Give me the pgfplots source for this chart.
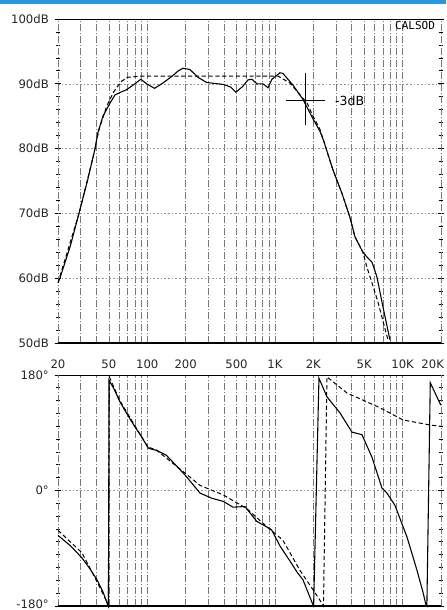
\documentclass[border=0pt]{standalone}
\usepackage{pgfplots}
\pgfplotsset{compat=1.18}
\usepackage{fontspec}
\setmainfont{DejaVu Sans}
\newfontfamily\monofont{DejaVu Sans Mono}
\definecolor{scanblue}{RGB}{40,150,225}
\definecolor{gridgray}{RGB}{120,120,120}

\pgfplotstableread{
f db
20 59.3
20.7 60
25 65
29.2 70
34 75
39 80
41.1 82.5
45 85
51 87
56 88.3
62 88.7
69 89.1
80 90
89 90.7
99 90
114 89.3
130 90
155 91.1
175 92
191 92.4
216 92.2
250 91
292 90.2
395 89.9
450 89.5
495 88.7
560 89.6
615 90.6
661 90.7
723 90
806 90
882 89.4
948 90.7
1095 91.7
1156 91.6
1385 89.8
1658 87.6
1882 85.5
2000 84.5
2250 82.7
2400 81.3
2850 76.7
3350 73.1
3870 69.4
4235 66.4
4891 64
5300 63.2
5755 62.5
6296 60.2
7015 55.6
7960 50.5
}\magmeas

\pgfplotstableread{
f db
20 59.3
29.2 70
38 79
42 83
48 86.5
54 88.6
62 90.3
70 91
90 91.2
1055 91.2
1315 90.1
1790 87
1990 85
2250 83
2400 81.3
2850 76.7
3350 73.1
3870 69.4
4235 66.4
4891 64
5256 61.7
5755 59.3
6440 56.2
7680 50.5
}\magtarget

\pgfplotstableread{
f ph
20 -70
25 -86
30.8 -105
35 -120
40.4 -139
45 -158
48.4 -175
49.7 -180
50.2 172
55 158
61.2 138
70 118
80.2 99
90 84
102 66
120 62
141 55
170 38
198 24
259 -4
320 -12
395 -17
469 -26
583 -25
720 -48
940 -61
1100 -87
1312 -110
1500 -128
1658 -139
1986 -178
2010 -180
2213 175
2557 146
3231 121
4012 91
4804 87
5755 52
6889 4
7540 -4
8710 -23
10810 -72
12950 -124
14430 -158
15240 -178
15500 -180
16480 168
19600 136
20000 133
}\phmeas

\pgfplotstableread{
f ph
20 -62
30.8 -97
40.4 -142
48.4 -174
49.5 -180
50.5 177
61 140
80 101
101 68
118 63
198 27
259 8
395 -7
600 -28
860 -56
1150 -77
1567 -124
2253 -171
2400 -180
2557 177
3666 152
6645 129
10060 110
16480 102
20000 100
}\phtarget

\begin{document}
\begin{tikzpicture}
\useasboundingbox (0,0) rectangle (267.6pt,-366pt);
\fill[scanblue] (0,0) rectangle (267.6pt,-2.2pt);

\begin{axis}[
  xmode=log,
  scale only axis, width=229.8pt, height=194.4pt,
  at={(34.8pt,-205.8pt)}, anchor=south west,
  xmin=20, xmax=20000,
  xtick={20,30,40,50,60,70,80,90,100,200,300,400,500,600,700,800,900,1000,2000,3000,4000,5000,6000,7000,8000,9000,10000,20000},
  xticklabels={20,,,50,,,,,100,200,,,500,,,,,1K,2K,,,5K,,,,,10K,\hbox to 3.5pt{\hss 20K}},
  xticklabel style={yshift=-4.5pt},
  xmajorgrids, ymajorgrids,
  major x grid style={gridgray, line width=0.35pt, dash pattern=on 4pt off 1.2pt on 0.8pt off 1.2pt},
  major y grid style={gridgray!80, line width=0.35pt, dash pattern=on 1pt off 1.2pt},
  xtick style={draw=none},
  ytick style={black, line width=0.45pt},
  tick align=center,
  major tick length=4pt, minor tick length=2.6pt,
  ticklabel style={font=\fontsize{7}{8}\selectfont, text=black!85},
  separate axis lines,
  x axis line style={black, line width=0.5pt},
  y axis line style={gridgray, line width=0.4pt, dash pattern=on 4pt off 1.2pt on 0.8pt off 1.2pt},
  clip=false,
  ymin=50, ymax=100,
  ytick={50,60,70,80,90,100},
  yticklabels={50dB,60dB,70dB,80dB,90dB,100dB},
  minor y tick num=4,
]
\addplot[black, line width=0.6pt, dash pattern=on 2.5pt off 1.6pt, no marks] table[x=f,y=db] {\magtarget};
\addplot[black, line width=0.65pt, no marks] table[x=f,y=db] {\magmeas};
\draw[black, line width=1.3pt] (rel axis cs:0,0) -- (rel axis cs:1,0);
\draw[black, line width=0.6pt] (axis cs:1221,87.35) -- (axis cs:2470,87.35);
\draw[black, line width=0.6pt] (axis cs:1737,83.6) -- (axis cs:1737,91.7);
\node[anchor=west, font=\fontsize{7.5}{8}\selectfont, inner sep=0pt] at (axis cs:2950,87.35) {-3dB};
\node[anchor=north east, font=\monofont\fontsize{6.6}{7}\selectfont, inner sep=0pt] at (rel axis cs:0.985,0.993) {CALSOD};
\end{axis}

\begin{axis}[
  xmode=log,
  scale only axis, width=229.8pt, height=138.6pt,
  at={(34.8pt,-363.6pt)}, anchor=south west,
  xmin=20, xmax=20000,
  xtick={20,30,40,50,60,70,80,90,100,200,300,400,500,600,700,800,900,1000,2000,3000,4000,5000,6000,7000,8000,9000,10000,20000},
  xticklabels={},
  xmajorgrids, ymajorgrids,
  major x grid style={gridgray, line width=0.35pt, dash pattern=on 4pt off 1.2pt on 0.8pt off 1.2pt},
  major y grid style={gridgray!80, line width=0.35pt, dash pattern=on 1pt off 1.2pt},
  xtick style={draw=none},
  ytick style={black, line width=0.45pt},
  tick align=center,
  major tick length=4pt, minor tick length=2.6pt,
  ticklabel style={font=\fontsize{7}{8}\selectfont, text=black!85},
  separate axis lines,
  x axis line style={black, line width=0.5pt},
  y axis line style={gridgray, line width=0.4pt, dash pattern=on 4pt off 1.2pt on 0.8pt off 1.2pt},
  clip=false,
  ymin=-180, ymax=180,
  ytick={-180,0,180},
  yticklabels={\raisebox{2.2pt}{-180°},0°,180°},
  minor y tick num=8,
]
\addplot[black, line width=0.6pt, dash pattern=on 2.5pt off 1.6pt, no marks] table[x=f,y=ph] {\phtarget};
\addplot[black, line width=0.65pt, no marks] table[x=f,y=ph] {\phmeas};
\draw[black, line width=1.3pt] (rel axis cs:0,0) -- (rel axis cs:1,0);
\end{axis}
\end{tikzpicture}
\end{document}
